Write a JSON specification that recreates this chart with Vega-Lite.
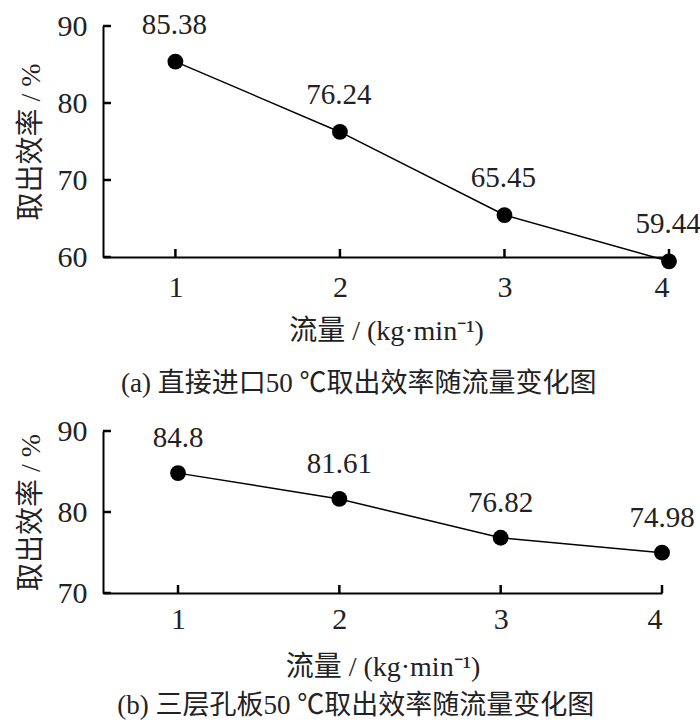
{
  "$schema": "https://vega.github.io/schema/vega-lite/v6.json",
  "background": "white",
  "padding": {"left": 17, "top": 10, "right": 4, "bottom": 5},
  "datasets": {
    "a": [
      {"flow": 1, "eff": 85.38},
      {"flow": 2, "eff": 76.24},
      {"flow": 3, "eff": 65.45},
      {"flow": 4, "eff": 59.44}
    ],
    "b": [
      {"flow": 1, "eff": 84.8},
      {"flow": 2, "eff": 81.61},
      {"flow": 3, "eff": 76.82},
      {"flow": 4, "eff": 74.98}
    ],
    "ticksA": [{"v": 60}, {"v": 70}, {"v": 80}, {"v": 90}],
    "ticksB": [{"v": 70}, {"v": 80}, {"v": 90}]
  },
  "spacing": 19,
  "vconcat": [
    {
      "width": 566,
      "height": 231,
      "title": {"text": "(a)  直接进口50 ℃取出效率随流量变化图", "orient": "bottom", "frame": "bounds", "anchor": "middle", "offset": 26},
      "layer": [
        {
          "data": {"name": "a"},
          "mark": {"type": "line", "color": "black", "strokeWidth": 1.5, "clip": false},
          "encoding": {
            "x": {
              "field": "flow", "type": "quantitative",
              "scale": {"domain": [0.56, 4], "nice": false, "zero": false},
              "axis": {"values": [1, 2, 3, 4], "format": "d", "title": "流量 / (kg·min⁻¹)"}
            },
            "y": {
              "field": "eff", "type": "quantitative",
              "scale": {"domain": [60, 90], "nice": false, "zero": false},
              "axis": {"values": [60, 70, 80, 90], "format": "d", "title": "取出效率 / %"}
            }
          }
        },
        {
          "data": {"name": "a"},
          "mark": {"type": "tick", "orient": "vertical", "color": "black", "size": 8, "thickness": 2.5, "opacity": 1, "yOffset": -4},
          "encoding": {
            "x": {"field": "flow", "type": "quantitative"},
            "y": {"datum": 60}
          }
        },
        {
          "data": {"name": "ticksA"},
          "mark": {"type": "tick", "orient": "horizontal", "color": "black", "size": 8, "thickness": 2.5, "opacity": 1, "xOffset": 4},
          "encoding": {
            "y": {"field": "v", "type": "quantitative"},
            "x": {"datum": 0.56}
          }
        },
        {
          "data": {"name": "a"},
          "mark": {"type": "point", "filled": true, "color": "black", "size": 250, "opacity": 1, "clip": false},
          "encoding": {
            "x": {"field": "flow", "type": "quantitative"},
            "y": {"field": "eff", "type": "quantitative"}
          }
        },
        {
          "data": {"name": "a"},
          "mark": {"type": "text", "dy": -37, "dx": -1, "fontSize": 29, "font": "Liberation Serif", "color": "#222"},
          "encoding": {
            "x": {"field": "flow", "type": "quantitative"},
            "y": {"field": "eff", "type": "quantitative"},
            "text": {"field": "eff", "type": "nominal"}
          }
        }
      ]
    },
    {
      "width": 559,
      "height": 162,
      "title": {"text": "(b) 三层孔板50 ℃取出效率随流量变化图", "orient": "bottom", "frame": "bounds", "anchor": "middle", "offset": 12},
      "layer": [
        {
          "data": {"name": "b"},
          "mark": {"type": "line", "color": "black", "strokeWidth": 1.5, "clip": false},
          "encoding": {
            "x": {
              "field": "flow", "type": "quantitative",
              "scale": {"domain": [0.535, 4], "nice": false, "zero": false},
              "axis": {"values": [1, 2, 3, 4], "format": "d", "title": "流量 / (kg·min⁻¹)", "labelPadding": 11, "titlePadding": 19}
            },
            "y": {
              "field": "eff", "type": "quantitative",
              "scale": {"domain": [70, 90], "nice": false, "zero": false},
              "axis": {"values": [70, 80, 90], "format": "d", "title": "取出效率 / %"}
            }
          }
        },
        {
          "data": {"name": "b"},
          "mark": {"type": "tick", "orient": "vertical", "color": "black", "size": 8, "thickness": 2.5, "opacity": 1, "yOffset": -4},
          "encoding": {
            "x": {"field": "flow", "type": "quantitative"},
            "y": {"datum": 70}
          }
        },
        {
          "data": {"name": "ticksB"},
          "mark": {"type": "tick", "orient": "horizontal", "color": "black", "size": 8, "thickness": 2.5, "opacity": 1, "xOffset": 4},
          "encoding": {
            "y": {"field": "v", "type": "quantitative"},
            "x": {"datum": 0.535}
          }
        },
        {
          "data": {"name": "b"},
          "mark": {"type": "point", "filled": true, "color": "black", "size": 250, "opacity": 1, "clip": false},
          "encoding": {
            "x": {"field": "flow", "type": "quantitative"},
            "y": {"field": "eff", "type": "quantitative"}
          }
        },
        {
          "data": {"name": "b"},
          "mark": {"type": "text", "dy": -35, "fontSize": 29, "font": "Liberation Serif", "color": "#222"},
          "encoding": {
            "x": {"field": "flow", "type": "quantitative"},
            "y": {"field": "eff", "type": "quantitative"},
            "text": {"field": "eff", "type": "nominal"}
          }
        }
      ]
    }
  ],
  "config": {
    "view": {"stroke": null},
    "font": "Liberation Serif, Noto Sans CJK SC",
    "axis": {
      "grid": false,
      "ticks": false,
      "domainColor": "black",
      "domainWidth": 2,
      "labelFont": "Liberation Serif",
      "labelFontSize": 30,
      "labelColor": "#222",
      "titleFont": "Liberation Serif, Noto Sans CJK SC",
      "titleFontSize": 28,
      "titleFontWeight": "normal",
      "titleColor": "#222"
    },
    "axisY": {"titlePadding": 12, "labelPadding": 16},
    "axisX": {"titlePadding": 15, "labelPadding": 15},
    "title": {
      "font": "Liberation Serif, Noto Sans CJK SC",
      "fontSize": 27,
      "fontWeight": "normal",
      "color": "#222"
    }
  }
}
